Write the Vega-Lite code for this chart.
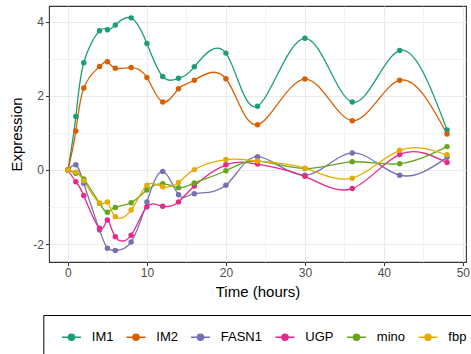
{
  "$schema": "https://vega.github.io/schema/vega-lite/v6.json",
  "width": 417,
  "height": 256,
  "autosize": {"type": "none"},
  "padding": {"left": 49, "top": 6, "right": 5, "bottom": 92},
  "background": "white",
  "config": {
    "font": "Liberation Sans",
    "view": {"stroke": "#333333", "strokeWidth": 1.1},
    "axis": {
      "domain": false,
      "gridColor": "#ebebeb",
      "tickColor": "#333333",
      "tickSize": 3.5,
      "labelColor": "#4d4d4d",
      "labelFontSize": 12,
      "labelFont": "Liberation Sans",
      "titleFont": "Liberation Sans",
      "titleFontSize": 15,
      "titleFontWeight": "normal",
      "titleColor": "black",
      "labelPadding": 2
    }
  },
  "data": {
    "values": [
      {"time": 0, "gene": "IM1", "value": 0}, {"time": 1, "gene": "IM1", "value": 1.44}, {"time": 2, "gene": "IM1", "value": 2.89}, {"time": 4, "gene": "IM1", "value": 3.75}, {"time": 5, "gene": "IM1", "value": 3.78}, {"time": 6, "gene": "IM1", "value": 3.91}, {"time": 8, "gene": "IM1", "value": 4.10}, {"time": 10, "gene": "IM1", "value": 3.41}, {"time": 12, "gene": "IM1", "value": 2.52}, {"time": 14, "gene": "IM1", "value": 2.47}, {"time": 16, "gene": "IM1", "value": 2.78}, {"time": 20, "gene": "IM1", "value": 3.15}, {"time": 24, "gene": "IM1", "value": 1.72}, {"time": 30, "gene": "IM1", "value": 3.55}, {"time": 36, "gene": "IM1", "value": 1.83}, {"time": 42, "gene": "IM1", "value": 3.22}, {"time": 48, "gene": "IM1", "value": 1.08},
      {"time": 0, "gene": "IM2", "value": 0}, {"time": 1, "gene": "IM2", "value": 1.05}, {"time": 2, "gene": "IM2", "value": 2.21}, {"time": 4, "gene": "IM2", "value": 2.79}, {"time": 5, "gene": "IM2", "value": 2.92}, {"time": 6, "gene": "IM2", "value": 2.74}, {"time": 8, "gene": "IM2", "value": 2.76}, {"time": 10, "gene": "IM2", "value": 2.49}, {"time": 12, "gene": "IM2", "value": 1.83}, {"time": 14, "gene": "IM2", "value": 2.19}, {"time": 16, "gene": "IM2", "value": 2.42}, {"time": 20, "gene": "IM2", "value": 2.46}, {"time": 24, "gene": "IM2", "value": 1.22}, {"time": 30, "gene": "IM2", "value": 2.45}, {"time": 36, "gene": "IM2", "value": 1.33}, {"time": 42, "gene": "IM2", "value": 2.42}, {"time": 48, "gene": "IM2", "value": 0.97},
      {"time": 0, "gene": "FASN1", "value": 0}, {"time": 1, "gene": "FASN1", "value": 0.14}, {"time": 2, "gene": "FASN1", "value": -0.36}, {"time": 4, "gene": "FASN1", "value": -1.62}, {"time": 5, "gene": "FASN1", "value": -2.11}, {"time": 6, "gene": "FASN1", "value": -2.17}, {"time": 8, "gene": "FASN1", "value": -1.94}, {"time": 10, "gene": "FASN1", "value": -0.86}, {"time": 12, "gene": "FASN1", "value": -0.04}, {"time": 14, "gene": "FASN1", "value": -0.67}, {"time": 16, "gene": "FASN1", "value": -0.64}, {"time": 20, "gene": "FASN1", "value": -0.41}, {"time": 24, "gene": "FASN1", "value": 0.36}, {"time": 30, "gene": "FASN1", "value": -0.14}, {"time": 36, "gene": "FASN1", "value": 0.46}, {"time": 42, "gene": "FASN1", "value": -0.14}, {"time": 48, "gene": "FASN1", "value": 0.34},
      {"time": 0, "gene": "UGP", "value": 0}, {"time": 1, "gene": "UGP", "value": -0.32}, {"time": 2, "gene": "UGP", "value": -0.69}, {"time": 4, "gene": "UGP", "value": -1.57}, {"time": 5, "gene": "UGP", "value": -1.35}, {"time": 6, "gene": "UGP", "value": -1.80}, {"time": 8, "gene": "UGP", "value": -1.76}, {"time": 10, "gene": "UGP", "value": -0.99}, {"time": 12, "gene": "UGP", "value": -0.98}, {"time": 14, "gene": "UGP", "value": -0.86}, {"time": 16, "gene": "UGP", "value": -0.43}, {"time": 20, "gene": "UGP", "value": 0.14}, {"time": 24, "gene": "UGP", "value": 0.16}, {"time": 30, "gene": "UGP", "value": -0.17}, {"time": 36, "gene": "UGP", "value": -0.50}, {"time": 42, "gene": "UGP", "value": 0.42}, {"time": 48, "gene": "UGP", "value": 0.20},
      {"time": 0, "gene": "mino", "value": 0}, {"time": 1, "gene": "mino", "value": -0.09}, {"time": 2, "gene": "mino", "value": -0.24}, {"time": 4, "gene": "mino", "value": -0.90}, {"time": 5, "gene": "mino", "value": -1.14}, {"time": 6, "gene": "mino", "value": -1.01}, {"time": 8, "gene": "mino", "value": -0.88}, {"time": 10, "gene": "mino", "value": -0.54}, {"time": 12, "gene": "mino", "value": -0.37}, {"time": 14, "gene": "mino", "value": -0.48}, {"time": 16, "gene": "mino", "value": -0.35}, {"time": 20, "gene": "mino", "value": -0.02}, {"time": 24, "gene": "mino", "value": 0.24}, {"time": 30, "gene": "mino", "value": 0.04}, {"time": 36, "gene": "mino", "value": 0.22}, {"time": 42, "gene": "mino", "value": 0.17}, {"time": 48, "gene": "mino", "value": 0.63},
      {"time": 0, "gene": "fbp", "value": 0}, {"time": 1, "gene": "fbp", "value": -0.06}, {"time": 2, "gene": "fbp", "value": -0.29}, {"time": 4, "gene": "fbp", "value": -0.89}, {"time": 5, "gene": "fbp", "value": -0.86}, {"time": 6, "gene": "fbp", "value": -1.26}, {"time": 8, "gene": "fbp", "value": -1.08}, {"time": 10, "gene": "fbp", "value": -0.41}, {"time": 12, "gene": "fbp", "value": -0.45}, {"time": 14, "gene": "fbp", "value": -0.34}, {"time": 16, "gene": "fbp", "value": 0.01}, {"time": 20, "gene": "fbp", "value": 0.28}, {"time": 24, "gene": "fbp", "value": 0.24}, {"time": 30, "gene": "fbp", "value": 0.05}, {"time": 36, "gene": "fbp", "value": -0.22}, {"time": 42, "gene": "fbp", "value": 0.53}, {"time": 48, "gene": "fbp", "value": 0.41}
    ]
  },
  "encoding": {
    "x": {
      "field": "time", "type": "quantitative", "title": "Time (hours)",
      "scale": {"domain": [-2.4, 50.4], "nice": false, "zero": false},
      "axis": {
        "values": [0, 5, 10, 15, 20, 25, 30, 35, 40, 45, 50],
        "labelExpr": "datum.value % 10 === 0 ? datum.label : ''",
        "tickOpacity": {"condition": {"test": "datum.value % 10 !== 0", "value": 0}, "value": 1},
        "gridWidth": {"condition": {"test": "datum.value % 10 !== 0", "value": 0.6}, "value": 1},
        "titlePadding": 6
      }
    },
    "y": {
      "field": "value", "type": "quantitative", "title": "Expression",
      "scale": {"domain": [-2.48, 4.42], "nice": false, "zero": false},
      "axis": {
        "values": [-2, -1, 0, 1, 2, 3, 4],
        "labelExpr": "datum.value % 2 === 0 ? replace(datum.label, '−', '-') : ''",
        "tickOpacity": {"condition": {"test": "datum.value % 2 !== 0", "value": 0}, "value": 1},
        "gridWidth": {"condition": {"test": "datum.value % 2 !== 0", "value": 0.6}, "value": 1},
        "titlePadding": 8
      }
    },
    "color": {
      "field": "gene", "type": "nominal",
      "sort": ["IM1", "IM2", "FASN1", "UGP", "mino", "fbp"],
      "scale": {"domain": ["IM1", "IM2", "FASN1", "UGP", "mino", "fbp"], "range": ["#1B9E77", "#D95F02", "#7570B3", "#E7298A", "#66A61E", "#E6AB02"]},
      "legend": {
        "title": null,
        "orient": "none",
        "legendX": -5.7,
        "legendY": 309,
        "direction": "horizontal",
        "columns": 6,
        "padding": 11.5,
        "strokeColor": "#000000",
        "labelFontSize": 13,
        "labelColor": "#000000",
        "labelFont": "Liberation Sans",
        "symbolType": "M-1,0H1M-0.33,0A0.33,0.33,0,1,0,0.33,0A0.33,0.33,0,1,0,-0.33,0Z",
        "symbolSize": 361,
        "symbolStrokeWidth": 1.4,
        "symbolOffset": 6.2,
        "labelOffset": 9.8,
        "columnPadding": 5.5,
        "encode": {"symbols": {"update": {"fill": {"scale": "color", "field": "value"}, "stroke": {"scale": "color", "field": "value"}, "fillOpacity": {"value": 1}}}}
      }
    }
  },
  "layer": [
    {"mark": {"type": "line", "interpolate": "natural", "strokeWidth": 1.3}},
    {"mark": {"type": "point", "filled": true, "size": 30, "opacity": 1}}
  ]
}
